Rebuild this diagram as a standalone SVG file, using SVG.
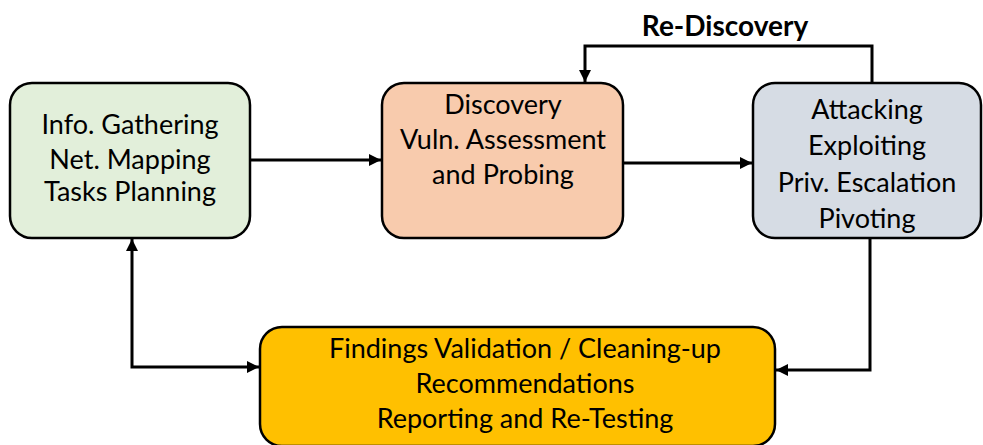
<svg xmlns="http://www.w3.org/2000/svg" width="983" height="445" viewBox="0 0 983 445">
<style>
.box{stroke:#000;stroke-width:2.5}
.t{font-family:Lato,"Liberation Sans",sans-serif;font-size:27px;fill:#000;text-anchor:middle}
.lbl{font-family:Lato,"Liberation Sans",sans-serif;font-size:28px;font-weight:bold;fill:#000;text-anchor:middle}
.c{fill:none;stroke:#000;stroke-width:3}
</style>
<defs>
<marker id="ah" viewBox="0 0 10 10" refX="10" refY="5" markerWidth="4" markerHeight="4" orient="auto-start-reverse" markerUnits="strokeWidth">
<path d="M0,0 L10,5 L0,10 z" fill="#000"/>
</marker>
</defs>
<rect width="983" height="445" fill="#fff"/>
<g id="connectors">
<path class="c" d="M250,160 H381" marker-end="url(#ah)"/>
<path class="c" d="M623,163 H752" marker-end="url(#ah)"/>
<path class="c" d="M872,83 V46 H585 V82" marker-end="url(#ah)"/>
<path class="c" d="M870,238 V370 H776" marker-end="url(#ah)"/>
<path class="c" d="M132,239 V367 H259" marker-start="url(#ah)" marker-end="url(#ah)"/>
<text class="lbl" x="725" y="36">Re-Discovery</text>
</g>
<g id="info">
<rect class="box" x="10" y="83" width="240" height="155" rx="22" fill="#E2EFDA"/>
<text class="t" x="130" y="134">Info. Gathering</text>
<text class="t" x="130" y="169">Net. Mapping</text>
<text class="t" x="130" y="201">Tasks Planning</text>
</g>
<g id="discovery">
<rect class="box" x="382" y="83" width="241" height="155" rx="22" fill="#F8CBAD"/>
<text class="t" x="503" y="114">Discovery</text>
<text class="t" x="503" y="149">Vuln. Assessment</text>
<text class="t" x="503" y="184">and Probing</text>
</g>
<g id="attacking">
<rect class="box" x="753" y="83" width="228" height="155" rx="22" fill="#D6DCE4"/>
<text class="t" x="867" y="119">Attacking</text>
<text class="t" x="867" y="155">Exploiting</text>
<text class="t" x="867" y="192">Priv. Escalation</text>
<text class="t" x="867" y="228">Pivoting</text>
</g>
<g id="findings">
<rect class="box" x="260" y="327" width="515" height="119" rx="22" fill="#FFC000"/>
<text class="t" x="525" y="358">Findings Validation / Cleaning-up</text>
<text class="t" x="525" y="393">Recommendations</text>
<text class="t" x="525" y="428">Reporting and Re-Testing</text>
</g>
</svg>
